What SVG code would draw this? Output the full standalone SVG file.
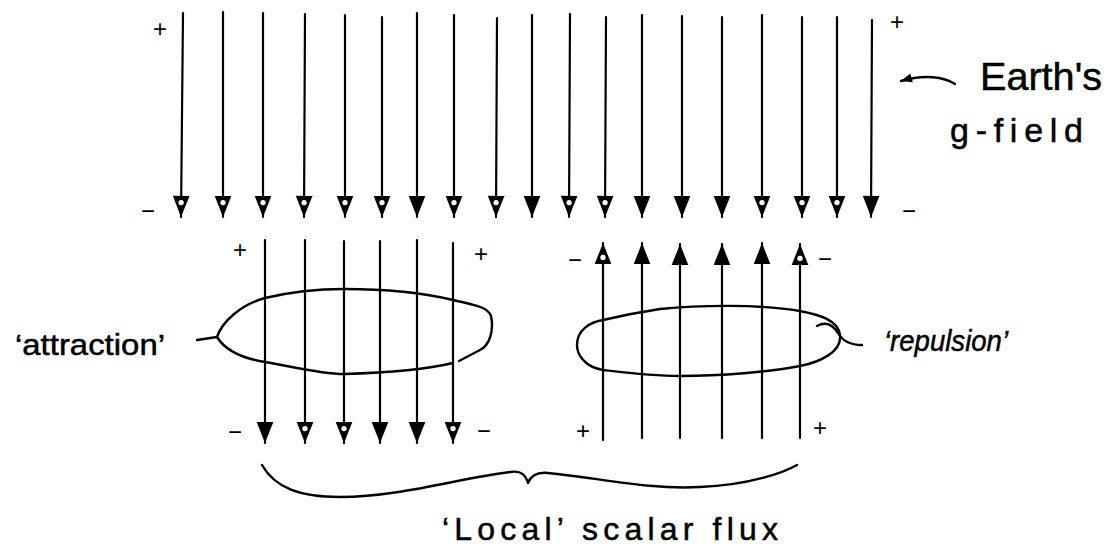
<svg xmlns="http://www.w3.org/2000/svg" width="1107" height="559" viewBox="0 0 1107 559">
<style>
.fl{stroke:#000;stroke-width:2.2;fill:none;stroke-linecap:round}
.ff{marker-end:url(#hf)}
.fh{marker-end:url(#hh)}
.sk{stroke:#000;stroke-width:2.4;fill:none;stroke-linecap:round;stroke-linejoin:round}
.t{font-family:"Liberation Sans",Arial,sans-serif;fill:#000;stroke:#000;stroke-width:0.5}
.pm{font-family:"Liberation Sans",Arial,sans-serif;font-size:24px;fill:#000;text-anchor:middle;dominant-baseline:central}
</style>
<defs>
<marker id="hf" markerUnits="userSpaceOnUse" orient="auto" markerWidth="24" markerHeight="20" viewBox="-1 -9 21 18" refX="19" refY="0" overflow="visible">
<path d="M0,-7.5 L19,0 L0,7.5 Z" fill="#000"/>
</marker>
<marker id="hh" markerUnits="userSpaceOnUse" orient="auto" markerWidth="24" markerHeight="20" viewBox="-1 -9 21 18" refX="19" refY="0" overflow="visible">
<path d="M0,-7.5 L19,0 L0,7.5 Z" fill="#000"/>
<circle cx="6" cy="0" r="2.4" fill="#fff"/>
</marker>
<marker id="hs" markerUnits="userSpaceOnUse" orient="auto" markerWidth="14" markerHeight="12" viewBox="-1 -6 13 12" refX="11" refY="0" overflow="visible">
<path d="M0,-4.5 L11,0 L0,4.5 Z" fill="#000"/>
</marker>
</defs>
<rect width="1107" height="559" fill="#fff"/>

<g id="connectors">
<g id="earth-field">
<line class="fl fh" x1="183" y1="13" x2="181" y2="217"/>
<line class="fl fh" x1="223" y1="12" x2="223" y2="217"/>
<line class="fl fh" x1="263" y1="13" x2="263" y2="217"/>
<line class="fl fh" x1="305" y1="14" x2="304" y2="217"/>
<line class="fl fh" x1="345" y1="15" x2="345" y2="217"/>
<line class="fl fh" x1="382" y1="17" x2="382" y2="217"/>
<line class="fl ff" x1="417" y1="13" x2="417" y2="217"/>
<line class="fl fh" x1="454" y1="15" x2="454" y2="217"/>
<line class="fl fh" x1="497" y1="18" x2="496" y2="217"/>
<line class="fl ff" x1="532" y1="15" x2="532" y2="217"/>
<line class="fl fh" x1="570" y1="14" x2="569" y2="217"/>
<line class="fl fh" x1="606" y1="17" x2="605" y2="217"/>
<line class="fl ff" x1="642" y1="15" x2="642" y2="217"/>
<line class="fl ff" x1="682" y1="16" x2="682" y2="217"/>
<line class="fl ff" x1="722" y1="17" x2="722" y2="217"/>
<line class="fl fh" x1="762" y1="15" x2="762" y2="217"/>
<line class="fl fh" x1="802" y1="17" x2="802" y2="217"/>
<line class="fl fh" x1="837" y1="17" x2="837" y2="217"/>
<line class="fl ff" x1="872" y1="20" x2="871" y2="217"/>
</g>
<g id="attraction-flux">
<line class="fl ff" x1="265" y1="240" x2="265" y2="443"/>
<line class="fl fh" x1="305" y1="240" x2="305" y2="443"/>
<line class="fl fh" x1="344" y1="241" x2="344" y2="443"/>
<line class="fl ff" x1="380" y1="241" x2="380" y2="443"/>
<line class="fl ff" x1="417" y1="240" x2="417" y2="443"/>
<line class="fl fh" x1="453" y1="243" x2="453" y2="443"/>
</g>
<g id="repulsion-flux">
<line class="fl fh" x1="603" y1="440" x2="603" y2="243"/>
<line class="fl ff" x1="642" y1="438" x2="642" y2="243"/>
<line class="fl ff" x1="680" y1="438" x2="680" y2="244"/>
<line class="fl ff" x1="722" y1="438" x2="722" y2="244"/>
<line class="fl ff" x1="762" y1="438" x2="762" y2="243"/>
<line class="fl fh" x1="800" y1="438" x2="800" y2="244"/>
</g>
<path class="sk" d="M955,84 C944,77 925,74 901,81" style="marker-end:url(#hs)"/>
<path class="sk" d="M197,340 L217,337"/>
<path class="sk" d="M817,326 C826,321 833,325 838,333 C843,342 852,345 862,345"/>
<path class="sk" d="M262,465 C275,488 300,497 340,497 C400,497 460,478 510,472 C522,470 526,476 528,483 C531,475 538,472 548,473 C600,478 650,490 700,487 C750,485 785,472 797,465"/>
</g>

<g id="attraction-body">
<path class="sk" d="M480,350 C490,345 494,330 491,316 C488,308 480,306 453,300 C420,292 380,289 344,289 C320,289 290,292 265,298 C240,305 222,322 217,337 C225,350 240,358 265,362 C290,366 320,374 344,374 C380,373 420,371 453,363"/>
<path class="sk" d="M459,361 L480,350"/>
</g>

<g id="repulsion-body">
<path class="sk" d="M577,345 C577,330 590,322 603,320 C620,316 640,312 660,309 C700,305 760,304 800,311 C820,315 838,320 840,335 C842,352 820,362 800,366 C770,372 720,376 680,376 C650,376 620,372 603,370 C585,367 577,355 577,345 Z"/>
</g>

<g id="labels">
<text class="t" x="980" y="90" font-size="39" textLength="122" lengthAdjust="spacingAndGlyphs">Earth's</text>
<text class="t" x="950" y="142" font-size="34" textLength="133" lengthAdjust="spacing">g-field</text>
<text class="t" x="15" y="355" font-size="30" textLength="150" lengthAdjust="spacingAndGlyphs">‘attraction’</text>
<text class="t" x="884" y="351" font-size="30" font-style="italic" textLength="124" lengthAdjust="spacingAndGlyphs">‘repulsion’</text>
<text class="t" x="442" y="540" font-size="32" textLength="336" lengthAdjust="spacing">‘Local’ scalar flux</text>
</g>

<g id="signs">
<text class="pm" x="160" y="28">+</text>
<text class="pm" x="148" y="210">−</text>
<text class="pm" x="897" y="21">+</text>
<text class="pm" x="909" y="210">−</text>
<text class="pm" x="240" y="249">+</text>
<text class="pm" x="481" y="253">+</text>
<text class="pm" x="235" y="431">−</text>
<text class="pm" x="484" y="430">−</text>
<text class="pm" x="575" y="259">−</text>
<text class="pm" x="825" y="258">−</text>
<text class="pm" x="583" y="430">+</text>
<text class="pm" x="820" y="427">+</text>
</g>
</svg>
